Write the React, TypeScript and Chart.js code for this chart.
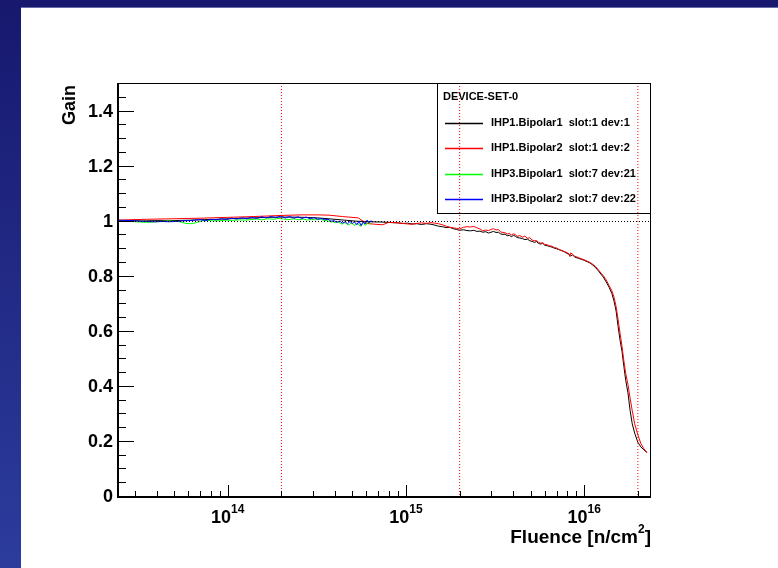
import React, { useEffect, useRef } from "react";
import { Chart, registerables } from "chart.js";

Chart.register(...registerables);

const W = 778;
const H = 568;

// Fluence range of the x axis [n/cm^2] and gain range of the y axis
const X_MIN = 2.39e13;
const X_MAX = 2.37e16;
const Y_MIN = 0;
const Y_MAX = 1.5;

// IHP1.Bipolar1 slot:1 dev:1
const dev1Fluence = [
  2.4e13, 2.8e13, 3.3e13, 3.9e13, 4.6e13, 5.4e13, 6.3e13, 7.4e13, 8.7e13, 1.02e14,
  1.2e14, 1.4e14, 1.65e14, 1.95e14, 2.3e14, 2.7e14, 3.2e14, 3.8e14, 4.5e14, 5.3e14,
  6.2e14, 7.3e14, 8.3e14, 9.0e14, 9.6e14, 1.02e15, 1.08e15, 1.15e15, 1.22e15, 1.3e15,
  1.38e15, 1.45e15, 1.52e15, 1.6e15, 1.68e15, 1.76e15, 1.84e15, 1.92e15, 2.0e15, 2.1e15,
  2.2e15, 2.3e15, 2.4e15, 2.5e15, 2.6e15, 2.7e15, 2.8e15, 2.9e15, 3.0e15, 3.1e15,
  3.2e15, 3.3e15, 3.4e15, 3.5e15, 3.6e15, 3.7e15, 3.8e15, 3.9e15, 4.0e15, 4.1e15,
  4.2e15, 4.35e15, 4.5e15, 4.65e15, 4.8e15, 4.95e15, 5.1e15, 5.25e15, 5.4e15, 5.55e15,
  5.7e15, 5.85e15, 6.0e15, 6.2e15, 6.4e15, 6.6e15, 6.8e15, 7.0e15, 7.2e15, 7.4e15,
  7.6e15, 7.8e15, 8.0e15, 8.2e15, 8.4e15, 8.6e15, 8.8e15, 9.0e15, 9.3e15, 9.6e15,
  1.0e16, 1.04e16, 1.08e16, 1.12e16, 1.16e16, 1.2e16, 1.24e16, 1.28e16, 1.33e16, 1.38e16,
  1.43e16, 1.47e16, 1.51e16, 1.55e16, 1.59e16, 1.63e16, 1.67e16, 1.71e16, 1.76e16, 1.81e16,
  1.86e16, 1.92e16, 2.0e16, 2.08e16, 2.16e16, 2.25e16,
];
const dev1Gain = [
  1.0, 1.001, 0.999, 1.0, 1.0, 1.001, 1.002, 1.004, 1.005, 1.007,
  1.009, 1.01, 1.012, 1.013, 1.013, 1.012, 1.01, 1.006, 1.002, 0.998,
  0.996, 0.995, 0.993, 0.992, 0.99, 0.991, 0.988, 0.989, 0.986, 0.989,
  0.987, 0.984, 0.98, 0.978, 0.975, 0.976, 0.971, 0.968, 0.965, 0.967,
  0.964, 0.963, 0.965, 0.961, 0.962, 0.958, 0.96, 0.955, 0.958, 0.961,
  0.957, 0.958, 0.952, 0.95, 0.951, 0.945, 0.947, 0.942, 0.946, 0.944,
  0.939, 0.937, 0.935, 0.931, 0.933, 0.927, 0.925, 0.921, 0.924, 0.917,
  0.915, 0.918, 0.911, 0.909, 0.906, 0.904, 0.9, 0.898, 0.895, 0.892,
  0.889, 0.886, 0.881, 0.878, 0.872, 0.876, 0.869, 0.866, 0.863, 0.86,
  0.856, 0.851, 0.846, 0.838, 0.829, 0.818, 0.806, 0.795, 0.777, 0.758,
  0.735, 0.708, 0.672, 0.615, 0.565, 0.525, 0.47, 0.42, 0.375, 0.31,
  0.262, 0.228, 0.195, 0.178, 0.168, 0.158,
];

// IHP1.Bipolar2 slot:1 dev:2
const dev2Fluence = [
  2.4e13, 3.5e13, 5.0e13, 7.0e13, 1.0e14, 1.4e14, 2.0e14, 2.6e14, 3.2e14, 3.7e14,
  4.4e14, 5.4e14, 6.0e14, 6.7e14, 7.4e14, 8.0e14, 9.0e14, 9.6e14, 1.02e15, 1.08e15,
  1.15e15, 1.22e15, 1.3e15, 1.38e15, 1.45e15, 1.52e15, 1.6e15, 1.68e15, 1.76e15, 1.84e15,
  1.92e15, 2.0e15, 2.1e15, 2.2e15, 2.3e15, 2.4e15, 2.5e15, 2.6e15, 2.7e15, 2.8e15,
  2.9e15, 3.0e15, 3.1e15, 3.2e15, 3.3e15, 3.4e15, 3.5e15, 3.6e15, 3.7e15, 3.8e15,
  3.9e15, 4.0e15, 4.1e15, 4.2e15, 4.35e15, 4.5e15, 4.65e15, 4.8e15, 4.95e15, 5.1e15,
  5.25e15, 5.4e15, 5.55e15, 5.7e15, 5.85e15, 6.0e15, 6.2e15, 6.4e15, 6.6e15, 6.8e15,
  7.0e15, 7.2e15, 7.4e15, 7.6e15, 7.8e15, 8.0e15, 8.2e15, 8.3e15, 8.4e15, 8.6e15,
  8.8e15, 9.0e15, 9.3e15, 9.6e15, 1.0e16, 1.04e16, 1.08e16, 1.12e16, 1.16e16, 1.2e16,
  1.24e16, 1.28e16, 1.33e16, 1.38e16, 1.43e16, 1.47e16, 1.51e16, 1.55e16, 1.59e16, 1.63e16,
  1.67e16, 1.71e16, 1.76e16, 1.81e16, 1.86e16, 1.92e16, 2.0e16, 2.08e16, 2.16e16, 2.25e16,
];
const dev2Gain = [
  1.002, 1.005, 1.007, 1.009, 1.012, 1.015, 1.019, 1.021, 1.021, 1.02,
  1.015, 1.01, 0.99, 0.987, 0.985, 0.994, 0.992, 0.99, 0.988, 0.987,
  0.99, 0.992, 0.99, 0.993, 0.991, 0.989, 0.985, 0.98, 0.976, 0.974,
  0.972, 0.97, 0.976, 0.978, 0.977, 0.979, 0.974, 0.97, 0.963, 0.966,
  0.964, 0.968, 0.971, 0.966, 0.968, 0.959, 0.957, 0.956, 0.951, 0.954,
  0.948, 0.952, 0.95, 0.943, 0.946, 0.94, 0.944, 0.936, 0.938, 0.93,
  0.927, 0.928, 0.921, 0.918, 0.92, 0.914, 0.912, 0.909, 0.907, 0.902,
  0.901, 0.896, 0.893, 0.89, 0.887, 0.884, 0.88, 0.87, 0.883, 0.878,
  0.872, 0.869, 0.866, 0.862, 0.858, 0.853, 0.848, 0.841, 0.833, 0.822,
  0.81, 0.8, 0.784, 0.764, 0.745, 0.722, 0.688, 0.64, 0.59, 0.543,
  0.49, 0.445, 0.405, 0.355, 0.31, 0.262, 0.222, 0.19, 0.172, 0.158,
];

// IHP3.Bipolar1 slot:7 dev:21
const dev21Fluence = [
  2.4e13, 2.6e13, 2.9e13, 3.2e13, 3.5e13, 3.8e13, 4.2e13, 4.6e13, 5.0e13, 5.4e13,
  5.8e13, 6.2e13, 6.6e13, 7.1e13, 7.7e13, 8.3e13, 9.0e13, 9.8e13, 1.06e14, 1.15e14,
  1.25e14, 1.35e14, 1.45e14, 1.55e14, 1.67e14, 1.8e14, 1.93e14, 2.05e14, 2.2e14, 2.35e14,
  2.5e14, 2.65e14, 2.8e14, 2.95e14, 3.1e14, 3.3e14, 3.45e14, 3.6e14, 3.8e14, 3.9e14,
  4.0e14, 4.1e14, 4.2e14, 4.3e14, 4.4e14, 4.5e14, 4.6e14, 4.7e14, 4.8e14, 4.9e14,
  5.0e14, 5.1e14, 5.2e14, 5.3e14, 5.4e14, 5.5e14, 5.6e14, 5.7e14, 5.8e14, 5.9e14,
  6.0e14, 6.1e14, 6.2e14, 6.3e14, 6.4e14,
];
const dev21Gain = [
  0.998, 0.999, 0.997, 0.995, 0.994, 0.995, 0.997, 0.999, 0.998, 0.996,
  0.99, 0.989, 0.992, 0.999, 1.001, 0.999, 1.0, 1.002, 1.001, 1.003,
  1.002, 1.004, 1.006, 1.003, 1.007, 1.005, 1.008, 1.006, 1.004, 1.007,
  1.003, 1.006, 1.002, 1.005, 1.003, 1.006, 1.001, 1.0, 0.995, 0.997,
  0.992, 0.996, 0.994, 0.989, 0.988, 0.993, 0.991, 0.986, 0.985, 0.991,
  0.99, 0.983, 0.984, 0.99, 0.989, 0.981, 0.98, 0.988, 0.992, 0.983,
  0.986, 0.993, 0.995, 0.987, 0.99,
];

// IHP3.Bipolar2 slot:7 dev:22
const dev22Fluence = [
  2.4e13, 2.6e13, 2.9e13, 3.2e13, 3.5e13, 3.9e13, 4.3e13, 4.7e13, 5.1e13, 5.5e13,
  6.0e13, 6.5e13, 7.0e13, 7.5e13, 8.0e13, 8.6e13, 9.2e13, 9.8e13, 1.05e14, 1.12e14,
  1.2e14, 1.28e14, 1.36e14, 1.45e14, 1.55e14, 1.65e14, 1.75e14, 1.86e14, 1.98e14, 2.1e14,
  2.22e14, 2.35e14, 2.48e14, 2.6e14, 2.75e14, 2.9e14, 3.05e14, 3.2e14, 3.35e14, 3.5e14,
  3.65e14, 3.8e14, 3.95e14, 4.1e14, 4.25e14, 4.4e14, 4.55e14, 4.7e14, 4.85e14, 5.0e14,
  5.15e14, 5.3e14, 5.45e14, 5.6e14, 5.75e14, 5.9e14, 6.05e14, 6.2e14, 6.35e14, 6.45e14,
];
const dev22Gain = [
  1.002, 1.001, 1.0, 0.998, 0.997, 0.996, 0.997, 0.996, 0.997, 0.999,
  1.0, 1.002, 1.004, 1.0, 1.005, 1.003, 1.007, 1.004, 1.009, 1.006,
  1.01, 1.007, 1.012, 1.008, 1.014, 1.01, 1.015, 1.011, 1.016, 1.01,
  1.015, 1.009, 1.014, 1.008, 1.013, 1.007, 1.011, 1.005, 1.008, 1.003,
  1.005, 0.998, 1.0, 0.994, 0.998, 0.991, 0.996, 0.989, 0.997, 0.99,
  0.995, 0.985, 0.998, 0.982, 0.996, 0.988, 1.002, 0.992, 1.0, 0.996,
];

const legendHeader = "DEVICE-SET-0";
const seriesLabels = [
  "IHP1.Bipolar1  slot:1 dev:1",
  "IHP1.Bipolar2  slot:1 dev:2",
  "IHP3.Bipolar1  slot:7 dev:21",
  "IHP3.Bipolar2  slot:7 dev:22",
];
const seriesColors = ["#000000", "#ff0000", "#00ff00", "#0000ff"];

const yTickValues = [0, 0.2, 0.4, 0.6, 0.8, 1, 1.2, 1.4];
const yTickLabels = ["0", "0.2", "0.4", "0.6", "0.8", "1", "1.2", "1.4"];
const yMinorStep = 0.05;
const xDecades = [14, 15, 16];
const xAxisTitle = "Fluence [n/cm";
const xAxisTitleSup = "2";
const yAxisTitle = "Gain";

// Reference markers: vertical fluence marks and the unity-gain line
const markerFluences = [2e14, 2e15, 2e16];
const unityGain = 1;

const FONT = '"Liberation Sans", Arial, Helvetica, sans-serif';

const zip = (xs: number[], ys: number[]) => xs.map((x, i) => ({ x, y: ys[i] }));

const rootFrame = {
  id: "rootFrame",
  beforeDraw(chart: any) {
    const ctx: CanvasRenderingContext2D = chart.ctx;
    ctx.save();
    ctx.fillStyle = "#ffffff";
    ctx.fillRect(0, 0, W, H);
    const g = ctx.createLinearGradient(0, 0, 0, H);
    g.addColorStop(0, "#17186e");
    g.addColorStop(1, "#2c3c9d");
    ctx.fillStyle = g;
    ctx.fillRect(0, 0, 21, H);
    ctx.fillStyle = "#17186e";
    ctx.fillRect(0, 0, W, 7);
    ctx.fillStyle = "#6a6aa8";
    ctx.fillRect(21, 7, W - 21, 1);
    ctx.restore();
  },
  afterDatasetsDraw(chart: any) {
    const ctx: CanvasRenderingContext2D = chart.ctx;
    const { left, right, top, bottom } = chart.chartArea;
    const xs = chart.scales.x;
    const ys = chart.scales.y;
    ctx.save();

    // legend box
    const lx0 = 437, lx1 = right, ly0 = top, ly1 = 213;
    ctx.fillStyle = "#ffffff";
    ctx.fillRect(lx0, ly0, lx1 - lx0, ly1 - ly0);
    ctx.strokeStyle = "#000";
    ctx.lineWidth = 1;
    ctx.strokeRect(lx0 + 0.5, ly0 + 0.5, lx1 - lx0 - 1, ly1 - ly0);
    ctx.fillStyle = "#000";
    ctx.font = `bold 11px ${FONT}`;
    ctx.textBaseline = "middle";
    ctx.textAlign = "left";
    ctx.fillText(legendHeader, 443, 96.5);
    seriesLabels.forEach((lab, i) => {
      const yy = 122.5 + i * 25.5;
      ctx.strokeStyle = seriesColors[i];
      ctx.lineWidth = 1.3;
      ctx.beginPath();
      ctx.moveTo(445, Math.round(yy) + 0.5);
      ctx.lineTo(483, Math.round(yy) + 0.5);
      ctx.stroke();
      ctx.fillStyle = "#000";
      ctx.fillText(lab, 491, yy);
    });

    // dotted reference lines
    ctx.setLineDash([1, 2]);
    ctx.lineWidth = 1;
    ctx.strokeStyle = "#000";
    const yu = Math.round(ys.getPixelForValue(unityGain)) + 0.5;
    ctx.beginPath();
    ctx.moveTo(left, yu);
    ctx.lineTo(right, yu);
    ctx.stroke();
    ctx.strokeStyle = "#ff0000";
    markerFluences.forEach((f) => {
      const px = xs.getPixelForValue(f);
      ctx.beginPath();
      ctx.moveTo(px, top);
      ctx.lineTo(px, bottom);
      ctx.stroke();
    });
    ctx.setLineDash([]);

    // frame
    ctx.strokeStyle = "#000";
    ctx.lineWidth = 1;
    ctx.strokeRect(left + 0.5, top + 0.5, right - left - 1, bottom - top);
    ctx.lineWidth = 2;
    ctx.beginPath();
    ctx.moveTo(left + 1, top);
    ctx.lineTo(left + 1, bottom + 1);
    ctx.lineTo(right, bottom + 1);
    ctx.stroke();

    // y ticks (inward)
    ctx.lineWidth = 1;
    ctx.beginPath();
    const nMinor = Math.round((Y_MAX - Y_MIN) / yMinorStep);
    for (let k = 0; k <= nMinor; k++) {
      const v = Y_MIN + k * yMinorStep;
      const major = yTickValues.some((t) => Math.abs(t - v) < 1e-6);
      const py = Math.round(ys.getPixelForValue(v)) + 0.5;
      ctx.moveTo(left, py);
      ctx.lineTo(left + (major ? 17 : 9), py);
    }
    // x ticks (inward)
    for (let d = 13; d <= 16; d++) {
      for (let m = 1; m <= 9; m++) {
        const v = m * Math.pow(10, d);
        if (v < X_MIN || v > X_MAX) continue;
        const px = Math.round(xs.getPixelForValue(v)) + 0.5;
        ctx.moveTo(px, bottom);
        ctx.lineTo(px, bottom - (m === 1 ? 11 : 5));
      }
    }
    ctx.stroke();

    // y tick labels
    ctx.fillStyle = "#000";
    ctx.font = `bold 18px ${FONT}`;
    ctx.textAlign = "right";
    ctx.textBaseline = "middle";
    yTickValues.forEach((v, i) => {
      ctx.fillText(yTickLabels[i], left - 4, ys.getPixelForValue(v) + 1);
    });

    // x tick labels: 10^n
    ctx.textAlign = "left";
    ctx.textBaseline = "alphabetic";
    xDecades.forEach((d) => {
      const px = xs.getPixelForValue(Math.pow(10, d));
      ctx.font = `bold 18px ${FONT}`;
      const wb = ctx.measureText("10").width;
      ctx.font = `bold 12px ${FONT}`;
      const ws = ctx.measureText(String(d)).width;
      const x0 = px - (wb + ws) / 2;
      ctx.font = `bold 18px ${FONT}`;
      ctx.fillText("10", x0, 523);
      ctx.font = `bold 12px ${FONT}`;
      ctx.fillText(String(d), x0 + wb, 513);
    });

    // x axis title, right aligned at the axis end
    ctx.font = `bold 19px ${FONT}`;
    const w1 = ctx.measureText(xAxisTitle).width;
    const wClose = ctx.measureText("]").width;
    ctx.font = `bold 12px ${FONT}`;
    const w2 = ctx.measureText(xAxisTitleSup).width;
    const tx = right - (w1 + w2 + wClose);
    ctx.font = `bold 19px ${FONT}`;
    ctx.fillText(xAxisTitle, tx, 543);
    ctx.font = `bold 12px ${FONT}`;
    ctx.fillText(xAxisTitleSup, tx + w1, 533);
    ctx.font = `bold 19px ${FONT}`;
    ctx.fillText("]", tx + w1 + w2, 543);

    // y axis title, rotated, aligned to the axis top
    ctx.font = `bold 18px ${FONT}`;
    ctx.translate(75, top + 2);
    ctx.rotate(-Math.PI / 2);
    ctx.textAlign = "right";
    ctx.fillText(yAxisTitle, 0, 0);

    ctx.restore();
  },
};

export default function App() {
  const ref = useRef<HTMLCanvasElement | null>(null);

  useEffect(() => {
    if (!ref.current) return;
    const series = [
      zip(dev1Fluence, dev1Gain),
      zip(dev2Fluence, dev2Gain),
      zip(dev21Fluence, dev21Gain),
      zip(dev22Fluence, dev22Gain),
    ];
    const chart = new Chart(ref.current, {
      type: "line",
      data: {
        datasets: series.map((data, i) => ({
          label: seriesLabels[i],
          data,
          borderColor: seriesColors[i],
          borderWidth: 1,
          pointRadius: 0,
          fill: false,
          tension: 0,
          order: 4 - i,
        })),
      },
      options: {
        animation: false,
        responsive: false,
        devicePixelRatio: 1,
        events: [],
        layout: { padding: { left: 117, right: W - 651, top: 83, bottom: H - 496 } },
        plugins: { legend: { display: false }, tooltip: { enabled: false } },
        scales: {
          x: { type: "logarithmic", min: X_MIN, max: X_MAX, display: false },
          y: { type: "linear", min: Y_MIN, max: Y_MAX, display: false },
        },
      },
      plugins: [rootFrame],
    });
    return () => chart.destroy();
  }, []);

  return (
    <div style={{ position: "absolute", left: 0, top: 0, width: W, height: H }}>
      <canvas ref={ref} width={W} height={H} style={{ display: "block" }} />
    </div>
  );
}
